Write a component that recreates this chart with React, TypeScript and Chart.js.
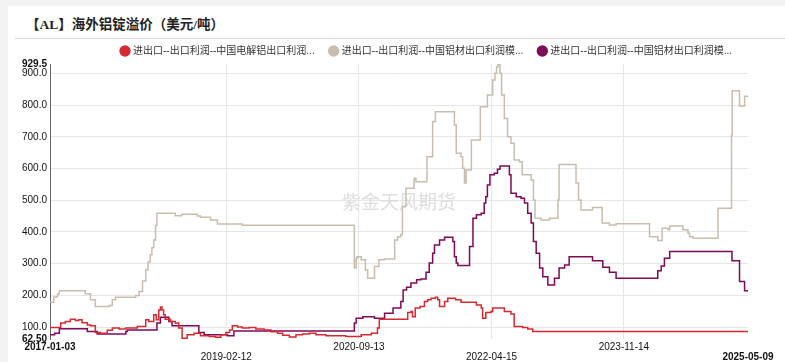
import React, { useEffect, useRef } from "react";
import { Chart, registerables } from "chart.js";

Chart.register(...registerables);

const titleText = "【AL】海外铝锭溢价（美元/吨）";
const watermarkText = "紫金天风期货";
const seriesNames = [
  "进出口--出口利润--中国电解铝出口利润...",
  "进出口--出口利润--中国铝材出口利润模...",
  "进出口--出口利润--中国铝材出口利润模...",
];
const seriesColors = ["#d42a30", "#c9bdad", "#7e0a58"];

const xTickDates = ["2017-01-03", "2019-02-12", "2020-09-13", "2022-04-15", "2023-11-14", "2025-05-09"];
const yTickValues = [62.5, 100, 200, 300, 400, 500, 600, 700, 800, 900, 929.5];

const redDates = [
  "2017-01-03", "2017-02-19", "2017-03-11", "2017-04-02", "2017-04-24", "2017-05-08", "2017-05-23", "2017-06-15",
  "2017-06-29", "2017-07-20", "2017-08-11", "2017-09-10", "2017-10-02", "2017-11-01", "2017-11-30", "2018-01-19",
  "2018-02-25", "2018-03-10", "2018-04-01", "2018-04-12", "2018-04-23", "2018-04-30", "2018-05-07", "2018-05-14",
  "2018-05-21", "2018-06-13", "2018-07-04", "2018-07-19", "2018-08-03", "2018-08-25", "2018-09-24", "2018-10-22",
  "2018-11-29", "2018-12-27", "2019-01-19", "2019-02-10", "2019-02-26", "2019-03-10", "2019-04-02", "2019-04-23",
  "2019-05-22", "2019-06-21", "2019-07-27", "2019-08-26", "2019-09-24", "2019-10-16", "2019-11-14", "2019-12-13",
  "2020-01-11", "2020-02-10", "2020-03-09", "2020-04-22", "2020-07-18", "2020-09-23", "2020-11-06", "2020-12-03",
  "2020-12-11", "2021-04-14", "2021-04-28", "2021-05-05", "2021-05-17", "2021-06-07", "2021-06-26", "2021-07-10",
  "2021-07-25", "2021-08-13", "2021-08-23", "2021-08-31", "2021-09-22", "2021-10-06", "2021-11-09", "2021-12-03",
  "2022-02-08", "2022-03-01", "2022-03-07", "2022-03-21", "2022-04-13", "2022-04-20", "2022-06-10", "2022-07-09",
  "2022-07-23", "2022-08-29", "2022-09-20", "2022-10-12", "2025-05-09",
];
const redValues = [
  99, 113, 118, 125, 121, 123, 114, 107,
  104, 83, 81, 90, 97, 94, 97, 102,
  123, 118, 139, 123, 154, 163, 154, 139,
  125, 118, 113, 97, 65, 76, 81, 73,
  70, 68, 76, 83, 91, 104, 100, 97,
  99, 94, 91, 85, 81, 74, 69, 76,
  78, 81, 76, 73, 70, 76, 81, 97,
  125, 146, 149, 133, 160, 165, 181, 186,
  191, 194, 186, 165, 181, 191, 186, 178,
  170, 160, 128, 146, 149, 160, 149, 141,
  102, 99, 94, 86, 86,
];

const tanDates = [
  "2017-01-03", "2017-01-20", "2017-02-05", "2017-02-13", "2017-06-06", "2017-06-29", "2017-07-20", "2017-09-18",
  "2017-10-02", "2017-10-16", "2018-01-12", "2018-01-27", "2018-02-11", "2018-02-25", "2018-03-07", "2018-03-17",
  "2018-03-24", "2018-04-01", "2018-04-09", "2018-04-15", "2018-07-04", "2018-08-02", "2018-10-08", "2018-10-22",
  "2018-12-05", "2019-01-04", "2019-04-23", "2020-08-24", "2020-09-01", "2020-09-05", "2020-09-23", "2020-10-11",
  "2020-10-21", "2020-11-20", "2020-12-09", "2021-01-03", "2021-02-16", "2021-03-01", "2021-03-15", "2021-03-22",
  "2021-04-06", "2021-05-12", "2021-05-20", "2021-07-07", "2021-08-01", "2021-08-13", "2021-11-04", "2021-11-12",
  "2021-12-03", "2021-12-10", "2021-12-18", "2021-12-25", "2022-01-17", "2022-02-25", "2022-03-28", "2022-04-20",
  "2022-04-30", "2022-05-07", "2022-05-14", "2022-05-22", "2022-05-29", "2022-06-10", "2022-06-24", "2022-07-09",
  "2022-07-23", "2022-08-15", "2022-08-27", "2022-10-05", "2022-10-15", "2022-10-22", "2022-11-18", "2022-12-24",
  "2023-01-30", "2023-02-04", "2023-04-19", "2023-04-30", "2023-05-11", "2023-06-30", "2023-08-11", "2023-09-12",
  "2023-10-11", "2024-03-05", "2024-04-10", "2024-04-29", "2024-05-24", "2024-06-01", "2024-07-29", "2024-08-20",
  "2024-08-27", "2024-09-11", "2024-12-29", "2025-02-26", "2025-03-01", "2025-04-02", "2025-04-24", "2025-05-09",
];
const tanValues = [
  178, 195, 205, 215, 205, 186, 165, 168,
  186, 194, 200, 212, 245, 280, 305, 328,
  350, 375, 420, 459, 451, 456, 450, 446,
  438, 425, 421, 286, 317, 322, 312, 280,
  254, 291, 312, 315, 375, 385, 391, 480,
  538, 569, 558, 637, 748, 779, 737, 648,
  637, 601, 554, 595, 690, 795, 832, 879,
  900, 921, 929.5, 900, 832, 758, 700, 680,
  627, 621, 580, 564, 501, 443, 438, 443,
  501, 613, 554, 501, 469, 477, 428, 422,
  426, 385, 373, 412, 407, 419, 407, 396,
  385, 380, 475, 706, 845, 797, 828, 828,
];

const purpleDates = [
  "2017-01-03", "2017-01-23", "2017-02-13", "2017-06-15", "2017-07-28", "2017-11-30", "2017-12-07", "2018-04-15",
  "2018-04-30", "2018-06-06", "2018-06-20", "2018-10-15", "2018-11-07", "2019-02-17", "2019-03-17", "2020-08-24",
  "2020-09-01", "2020-09-30", "2020-11-20", "2021-01-03", "2021-02-09", "2021-03-15", "2021-03-25", "2021-04-09",
  "2021-04-28", "2021-05-23", "2021-06-11", "2021-07-03", "2021-07-17", "2021-08-01", "2021-08-09", "2021-08-31",
  "2021-09-22", "2021-10-28", "2021-11-04", "2021-11-12", "2021-11-19", "2022-01-09", "2022-01-24", "2022-02-08",
  "2022-03-01", "2022-03-14", "2022-03-21", "2022-03-28", "2022-04-08", "2022-04-27", "2022-05-11", "2022-05-22",
  "2022-07-02", "2022-07-09", "2022-08-01", "2022-08-22", "2022-09-06", "2022-09-20", "2022-10-05", "2022-10-15",
  "2022-10-27", "2022-11-11", "2022-11-25", "2022-12-17", "2023-01-15", "2023-02-04", "2023-02-28", "2023-03-20",
  "2023-06-30", "2023-08-14", "2023-09-12", "2023-10-11", "2024-04-10", "2024-04-25", "2024-05-09", "2024-06-01",
  "2025-02-28", "2025-04-02", "2025-04-24", "2025-05-09",
];
const purpleValues = [
  76, 81, 95, 86, 78, 86, 91, 113,
  131, 118, 104, 83, 76, 73, 88, 113,
  128, 133, 128, 144, 160, 181, 217, 226,
  239, 249, 252, 273, 302, 333, 359, 375,
  383, 370, 322, 302, 294, 354, 443, 454,
  459, 491, 511, 548, 580, 585, 598, 608,
  580, 522, 511, 506, 491, 459, 428, 370,
  333, 286, 259, 233, 254, 286, 296, 322,
  309, 289, 273, 254, 278, 293, 317, 338,
  309, 244, 215, 215,
];

const FONT = "'Liberation Sans', Arial, 'Noto Sans CJK SC', sans-serif";
const LEGEND_DX = 49;
const LEGEND_DY = -6;

const toPoints = (dates: string[], values: number[]) =>
  dates.map((d, i) => ({ x: Date.parse(d), y: values[i] }));

const legendShift = {
  id: "legendShift",
  afterLayout(chart: any) {
    const l = chart.legend;
    if (l) {
      l.left += LEGEND_DX;
      l.right += LEGEND_DX;
      l.top += LEGEND_DY;
      l.bottom += LEGEND_DY;
    }
  },
};

const watermark = {
  id: "watermark",
  beforeDatasetsDraw(chart: any) {
    const { ctx, chartArea } = chart;
    ctx.save();
    ctx.font = "19px 'Noto Sans CJK SC', sans-serif";
    ctx.fillStyle = "#dedede";
    ctx.textAlign = "center";
    ctx.textBaseline = "middle";
    ctx.fillText(watermarkText, (chartArea.left + chartArea.right) / 2, (chartArea.top + chartArea.bottom) / 2);
    ctx.restore();
  },
};

export default function App() {
  const ref = useRef<HTMLCanvasElement>(null);

  useEffect(() => {
    if (!ref.current) return;
    const lastX = xTickDates.length - 1;
    const lastY = yTickValues.length - 1;
    const chart = new Chart(ref.current, {
      type: "line",
      data: {
        datasets: [
          { label: seriesNames[0], data: toPoints(redDates, redValues), borderColor: seriesColors[0], backgroundColor: seriesColors[0] },
          { label: seriesNames[1], data: toPoints(tanDates, tanValues), borderColor: seriesColors[1], backgroundColor: seriesColors[1] },
          { label: seriesNames[2], data: toPoints(purpleDates, purpleValues), borderColor: seriesColors[2], backgroundColor: seriesColors[2] },
        ].map((d) => ({ ...d, stepped: true, borderWidth: 1.5, pointRadius: 0, fill: false })),
      },
      options: {
        animation: false,
        responsive: false,
        maintainAspectRatio: false,
        layout: { padding: { left: 0, right: 37, top: 0, bottom: 0 } },
        plugins: {
          legend: {
            position: "top",
            maxHeight: 28,
            labels: {
              usePointStyle: true,
              pointStyle: "circle",
              boxWidth: 6,
              boxHeight: 7,
              padding: 16,
              color: "#333",
              font: { family: FONT, size: 10 },
            },
          },
          tooltip: { enabled: false },
        },
        scales: {
          x: {
            type: "linear",
            min: Date.parse(xTickDates[0]),
            max: Date.parse(xTickDates[lastX]),
            afterBuildTicks: (s: any) => {
              s.ticks = xTickDates.map((d) => ({ value: Date.parse(d) }));
            },
            afterFit: (s: any) => {
              s.height = 23;
            },
            ticks: {
              autoSkip: false,
              maxRotation: 0,
              padding: 3,
              color: "#111",
              font: (c: any) => ({
                family: FONT,
                size: 10,
                lineHeight: 1,
                weight: c.index === 0 || c.index === lastX ? "bold" : "normal",
              }),
              callback: (_v: any, i: number) => (i % 2 === 1 ? ["", xTickDates[i]] : xTickDates[i]),
            },
            grid: {
              drawTicks: false,
              color: (c: any) => (c.index === lastX ? "rgba(0,0,0,0)" : "#e6e6e6"),
            },
            border: { display: false },
          },
          y: {
            type: "linear",
            min: yTickValues[0],
            max: yTickValues[lastY],
            afterBuildTicks: (s: any) => {
              s.ticks = yTickValues.map((v) => ({ value: v }));
            },
            afterFit: (s: any) => {
              s.width = 42;
            },
            ticks: {
              autoSkip: false,
              padding: 3,
              color: "#111",
              font: (c: any) => ({
                family: FONT,
                size: 10,
                weight: c.index === 0 || c.index === lastY ? "bold" : "normal",
              }),
              callback: (v: any) => (Number(v) === 62.5 ? "62.50" : Number(v).toFixed(1)),
            },
            grid: {
              drawTicks: false,
              color: (c: any) => (c.index === 0 || c.index === lastY ? "rgba(0,0,0,0)" : "#e6e6e6"),
            },
            border: { color: "#666", width: 1 },
          },
        },
      },
      plugins: [legendShift, watermark],
    });
    return () => chart.destroy();
  }, []);

  return (
    <div style={{ position: "fixed", left: 0, top: 0, width: 785, height: 362, background: "#f3f3f3", overflow: "hidden" }}>
      <div style={{ position: "absolute", left: 8, top: 6, right: 0, bottom: 0, background: "#fff" }} />
      <div
        style={{
          position: "absolute",
          left: 26,
          top: 16,
          fontFamily: "'Liberation Serif', 'Noto Sans CJK SC', serif",
          fontWeight: "bold",
          fontSize: 13.5,
          lineHeight: "18px",
          color: "#222",
          whiteSpace: "nowrap",
        }}
      >
        {titleText}
      </div>
      <div style={{ position: "absolute", left: 15, top: 38, right: 0, height: 1, background: "#dcdcdc" }} />
      <canvas
        ref={ref}
        width={777}
        height={326}
        style={{ position: "absolute", left: 8, top: 36, width: 777, height: 326 }}
      />
    </div>
  );
}
